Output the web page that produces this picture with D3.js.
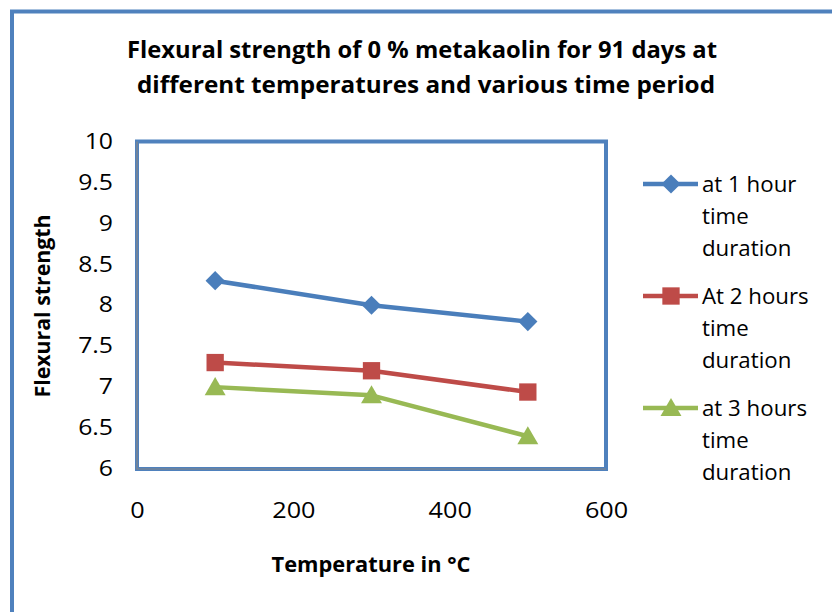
<!DOCTYPE html>
<html><head><meta charset="utf-8">
<script src="https://cdn.jsdelivr.net/npm/d3@7"></script>
<style>body{margin:0;background:#fff}svg{display:block}</style>
</head><body>
<svg id="c" width="832" height="612"></svg>
<script>
const temperatures = [100, 300, 500];
const oneHour = [8.3, 8.0, 7.8];
const twoHours = [7.3, 7.2, 6.94];
const threeHours = [7.0, 6.9, 6.4];
const seriesNames = [["at 1 hour","time","duration"],["At 2 hours","time","duration"],["at 3 hours","time","duration"]];
const xTicks = [0, 200, 400, 600];
const yTicks = [6, 6.5, 7, 7.5, 8, 8.5, 9, 9.5, 10];
const colors = ["#4a7ebb", "#be4b48", "#98b954"];

const svg = d3.select("#c");
const font = "'Open Sans', 'Liberation Sans', sans-serif";
const L = 137, R = 606, T = 141.5, B = 469;
const x = d3.scaleLinear().domain([0, 600]).range([L, R]);
const y = d3.scaleLinear().domain([6, 10]).range([B, T]);

function stretch(sel, f) {
  sel.each(function() {
    const w = this.getComputedTextLength();
    d3.select(this).attr("textLength", w * f).attr("lengthAdjust", "spacingAndGlyphs");
  });
}

// outer border
svg.append("path").attr("d", `M12,612 L12,11.5 L832,11.5`).attr("fill","none")
  .attr("stroke","#4f81bd").attr("stroke-width",4);

// title
const title = svg.append("text").attr("font-family", font).attr("font-weight","bold")
  .attr("font-size", 23).attr("fill","#000").attr("text-anchor","middle");
title.append("tspan").attr("x", 422).attr("y", 58).attr("textLength", 590).attr("lengthAdjust","spacingAndGlyphs")
  .text("Flexural strength of 0 % metakaolin for 91 days at");
title.append("tspan").attr("x", 426).attr("y", 93).attr("textLength", 578).attr("lengthAdjust","spacingAndGlyphs")
  .text("different temperatures and various time period");

// axes
const yAxis = d3.axisLeft(y).tickValues(yTicks).tickSize(0).tickPadding(24).tickFormat(d3.format("~g"));
const gy = svg.append("g").attr("transform", `translate(${L},0)`).call(yAxis);
gy.select(".domain").remove();
gy.selectAll("text").attr("font-family", font).attr("font-size", 21).attr("fill","#000").call(stretch, 1.18);

const xAxis = d3.axisBottom(x).tickValues(xTicks).tickSize(0).tickPadding(34).tickFormat(d3.format("d"));
const gx = svg.append("g").attr("transform", `translate(0,${B})`).call(xAxis);
gx.select(".domain").remove();
gx.selectAll("text").attr("font-family", font).attr("font-size", 21).attr("fill","#000").call(stretch, 1.2);

// plot area border
svg.append("rect").attr("x", L).attr("y", T).attr("width", R - L).attr("height", B - T)
  .attr("fill","none").attr("stroke","#4f81bd").attr("stroke-width",4);
svg.append("path").attr("d", `M${L},${T} L${L},${B} L${R},${B}`).attr("fill","none")
  .attr("stroke","#868686").attr("stroke-width",1.2);

// axis titles
svg.append("text").attr("x", 371).attr("y", 572).attr("text-anchor","middle")
  .attr("font-family", font).attr("font-weight","bold").attr("font-size", 21)
  .attr("textLength", 199).attr("lengthAdjust","spacingAndGlyphs").text("Temperature in °C");
svg.append("text").attr("transform","translate(50,306) rotate(-90)").attr("text-anchor","middle")
  .attr("font-family", font).attr("font-weight","bold").attr("font-size", 21)
  .attr("textLength", 183).attr("lengthAdjust","spacingAndGlyphs").text("Flexural strength");

// markers
function marker(g, i, cx, cy) {
  if (i === 0) {
    g.append("path").attr("transform", `translate(${cx},${cy}) rotate(45)`)
      .attr("d", d3.symbol().type(d3.symbolSquare).size(185)).attr("fill", colors[i]);
  } else if (i === 1) {
    g.append("path").attr("transform", `translate(${cx},${cy})`)
      .attr("d", d3.symbol().type(d3.symbolSquare).size(300)).attr("fill", colors[i]);
  } else {
    g.append("path").attr("transform", `translate(${cx},${cy + 2})`)
      .attr("d", d3.symbol().type(d3.symbolTriangle).size(190)).attr("fill", colors[i]);
  }
}

// series
const allSeries = [oneHour, twoHours, threeHours];
const line = d3.line().x(d => x(d[0])).y(d => y(d[1]));
allSeries.forEach((vals, i) => {
  const pts = temperatures.map((t, j) => [t, vals[j]]);
  const g = svg.append("g");
  g.append("path").attr("d", line(pts)).attr("fill","none").attr("stroke", colors[i])
    .attr("stroke-width", 4.5).attr("stroke-linejoin","round");
  pts.forEach(d => marker(g, i, x(d[0]), y(d[1])));
});

// legend
const legY = [184, 296, 408];
seriesNames.forEach((lines, i) => {
  const g = svg.append("g");
  g.append("line").attr("x1", 643).attr("x2", 698).attr("y1", legY[i]).attr("y2", legY[i])
    .attr("stroke", colors[i]).attr("stroke-width", 4.5);
  marker(g, i, 671, legY[i]);
  lines.forEach((s, k) => {
    g.append("text").attr("x", 702).attr("y", legY[i] + k * 32 + 8)
      .attr("font-family", font).attr("font-size", 21).attr("fill","#000").text(s)
      .call(stretch, 1.06);
  });
});
</script>
</body></html>
